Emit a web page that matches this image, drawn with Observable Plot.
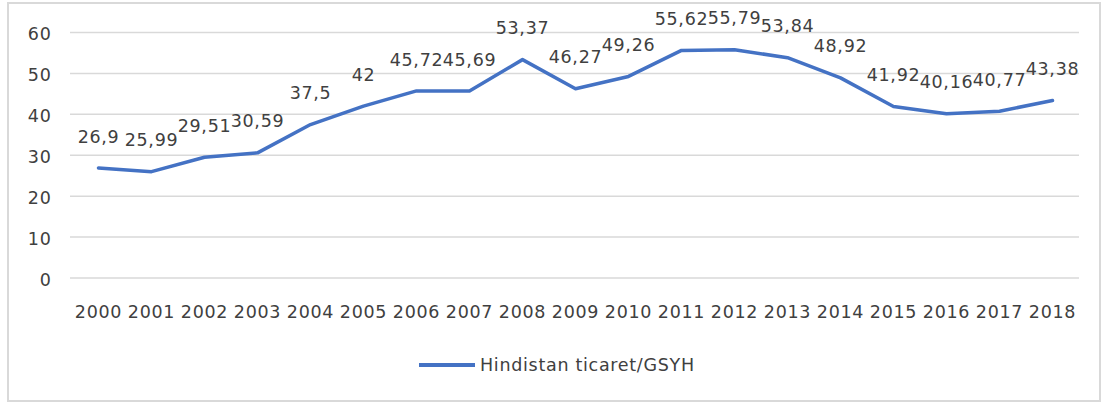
<!DOCTYPE html>
<html>
<head>
<meta charset="utf-8">
<script src="https://cdn.jsdelivr.net/npm/d3@7"></script>
<script src="https://cdn.jsdelivr.net/npm/@observablehq/plot@0.6"></script>
<style>
  html, body { margin: 0; padding: 0; background: #fff; }
  body { width: 1102px; height: 405px; position: relative; overflow: hidden; font-family: "DejaVu Sans", sans-serif; }
  #frame { position: absolute; left: 7px; top: 2px; width: 1094px; height: 400px; border: 2px solid #d9d9d9; box-sizing: border-box; }
  #chart { position: absolute; left: 0; top: 0; }
  #legend { position: absolute; left: 419px; top: 353px; height: 24px; display: flex; align-items: center; color: #404040; font-size: 17.5px; letter-spacing: 0.7px; white-space: nowrap; }
  #legend .swatch { display: inline-block; width: 56px; height: 4px; background: #4472C4; margin-right: 5px; }
</style>
</head>
<body>
<div id="frame"></div>
<div id="chart"></div>
<div id="legend"><span class="swatch"></span><span id="legend-label"></span></div>
<script>
const years = ["2000","2001","2002","2003","2004","2005","2006","2007","2008","2009","2010","2011","2012","2013","2014","2015","2016","2017","2018"];
const values = [26.9, 25.99, 29.51, 30.59, 37.5, 42, 45.72, 45.69, 53.37, 46.27, 49.26, 55.62, 55.79, 53.84, 48.92, 41.92, 40.16, 40.77, 43.38];
const yTicks = [0, 10, 20, 30, 40, 50, 60];
const seriesName = "Hindistan ticaret/GSYH";

document.getElementById("legend-label").textContent = seriesName;

const data = years.map((year, i) => ({
  year,
  value: values[i],
  label: String(values[i]).replace(".", ",")
}));

const plot = Plot.plot({
  width: 1102,
  height: 330,
  marginLeft: 70,
  marginRight: 23,
  marginTop: 32,
  marginBottom: 52.5,
  style: { fontFamily: "DejaVu Sans, sans-serif", fontSize: "17.5px", color: "#404040", letterSpacing: "0.7px", background: "transparent" },
  x: { type: "point", domain: years, padding: 0.5, label: null },
  y: { domain: [0, 60], label: null },
  marks: [
    Plot.ruleY(yTicks, { stroke: "#d9d9d9", strokeWidth: 1.5 }),
    Plot.axisY({ ticks: yTicks, tickSize: 0, tickPadding: 19, label: null, dy: 2 }),
    Plot.axisX({ tickSize: 0, tickPadding: 28, label: null }),
    Plot.line(data, { x: "year", y: "value", stroke: "#4472C4", strokeWidth: 3.5, strokeLinejoin: "round", strokeLinecap: "round" }),
    Plot.text(data, { x: "year", y: "value", text: "label", dy: -31, fill: "#404040" })
  ]
});
document.getElementById("chart").appendChild(plot);
</script>
</body>
</html>
